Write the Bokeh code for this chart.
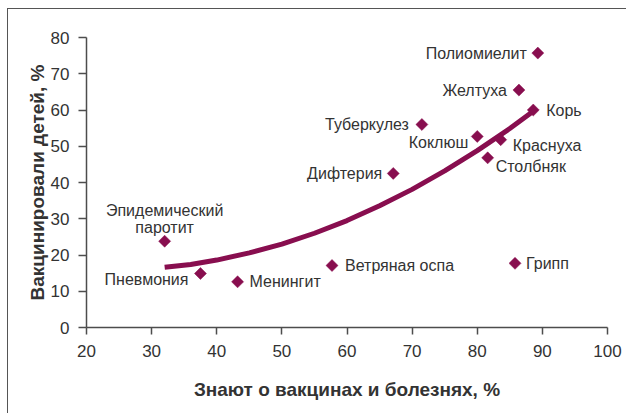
import math
from bokeh.plotting import figure
from bokeh.models import ColumnDataSource, FixedTicker
from bokeh.embed import file_html
from bokeh.resources import INLINE
from bokeh.core.properties import value

# ---- data ----
diseases = ["Полиомиелит", "Желтуха", "Корь", "Туберкулез", "Коклюш", "Краснуха",
            "Столбняк", "Дифтерия", "Ветряная оспа", "Грипп",
            "Эпидемический\nпаротит", "Пневмония", "Менингит"]
know_pct = [89.3, 86.4, 88.6, 71.5, 80.0, 83.6, 81.6, 67.1, 57.7, 85.8, 32.0, 37.5, 43.2]
vacc_pct = [75.7, 65.5, 60.0, 56.0, 52.7, 51.8, 46.8, 42.5, 17.1, 17.7, 23.8, 14.9, 12.6]

# trend curve
trend_x = [32.0, 36.0, 40.0, 45.0, 50.0, 55.0, 60.0, 65.0, 70.0, 75.0, 80.0, 85.0, 88.7]
trend_y = [16.6, 17.4, 18.6, 20.6, 23.0, 26.0, 29.5, 33.6, 38.1, 43.2, 48.8, 54.9, 59.8]

x_ticks = [20, 30, 40, 50, 60, 70, 80, 90, 100]
y_ticks = [0, 10, 20, 30, 40, 50, 60, 70, 80]

x_title = "Знают о вакцинах и болезнях, %"
y_title = "Вакцинировали детей, %"

# ---- label placement (style only) ----
label_align = ["right", "right", "left", "right", "right", "left",
               "left", "right", "left", "left", "center", "right", "left"]
label_base = ["middle"] * 10 + ["bottom", "middle", "middle"]
label_dx = [-11, -12, 13, -13, -9, 12, 8, -11, 13, 11, 0, -12, 12]
label_dy = [0, 0, 0, 0, 6, 6, 9, 0, 0, 0, -5, 6, 0]

MAROON = "#880E4F"
INK = "#333333"
AXIS = "#4d4d4d"
FONT = "Liberation Sans"

p = figure(width=619, height=405, x_range=(20, 100), y_range=(0, 80),
           output_backend="svg", toolbar_location=None,
           min_border_left=78, min_border_right=20,
           min_border_top=28, min_border_bottom=87)
# outer frame of the figure (its right and bottom edges fall outside the picture)
p.styles = {"margin-left": "7px", "margin-top": "8px",
            "border-left": "1px solid #555555", "border-top": "1px solid #555555"}
p.outline_line_color = None
p.xgrid.visible = False
p.ygrid.visible = False
p.background_fill_color = "white"
p.border_fill_color = "white"

p.xaxis.ticker = FixedTicker(ticks=x_ticks)
p.yaxis.ticker = FixedTicker(ticks=y_ticks)
for ax in (p.xaxis, p.yaxis):
    ax.axis_line_color = AXIS
    ax.axis_line_width = 1.5
    ax.major_tick_line_color = AXIS
    ax.major_tick_line_width = 1.5
    ax.major_tick_in = 0
    ax.minor_tick_line_color = None
    ax.major_label_text_font = FONT
    ax.major_label_text_font_size = "17px"
    ax.major_label_text_color = INK
    ax.axis_label_text_font = FONT
    ax.axis_label_text_font_style = "bold"
    ax.axis_label_text_font_size = "19px"
    ax.axis_label_text_color = INK
p.xaxis.major_tick_out = 7
p.yaxis.major_tick_out = 8
p.xaxis.major_label_standoff = 10
p.yaxis.major_label_standoff = 9
p.xaxis.axis_label = x_title
p.yaxis.axis_label = y_title
p.xaxis.axis_label_standoff = 19
p.yaxis.axis_label_standoff = 0

p.line(trend_x, trend_y, line_color=MAROON, line_width=5, line_cap="butt")

src = ColumnDataSource(dict(x=know_pct, y=vacc_pct, name=diseases,
                            align=label_align, base=label_base,
                            dx=label_dx, dy=label_dy))
p.scatter("x", "y", source=src, marker="square", size=8.5, angle=math.pi / 4,
          fill_color=MAROON, line_color=MAROON, line_width=0.5)
p.text(x="x", y="y", text="name", source=src, x_offset="dx", y_offset="dy",
       text_align="align", text_baseline="base",
       text_font=value(FONT), text_font_size="16px", text_color=INK,
       text_line_height=1.0)

open("out.html", "w").write(file_html(p, INLINE))
